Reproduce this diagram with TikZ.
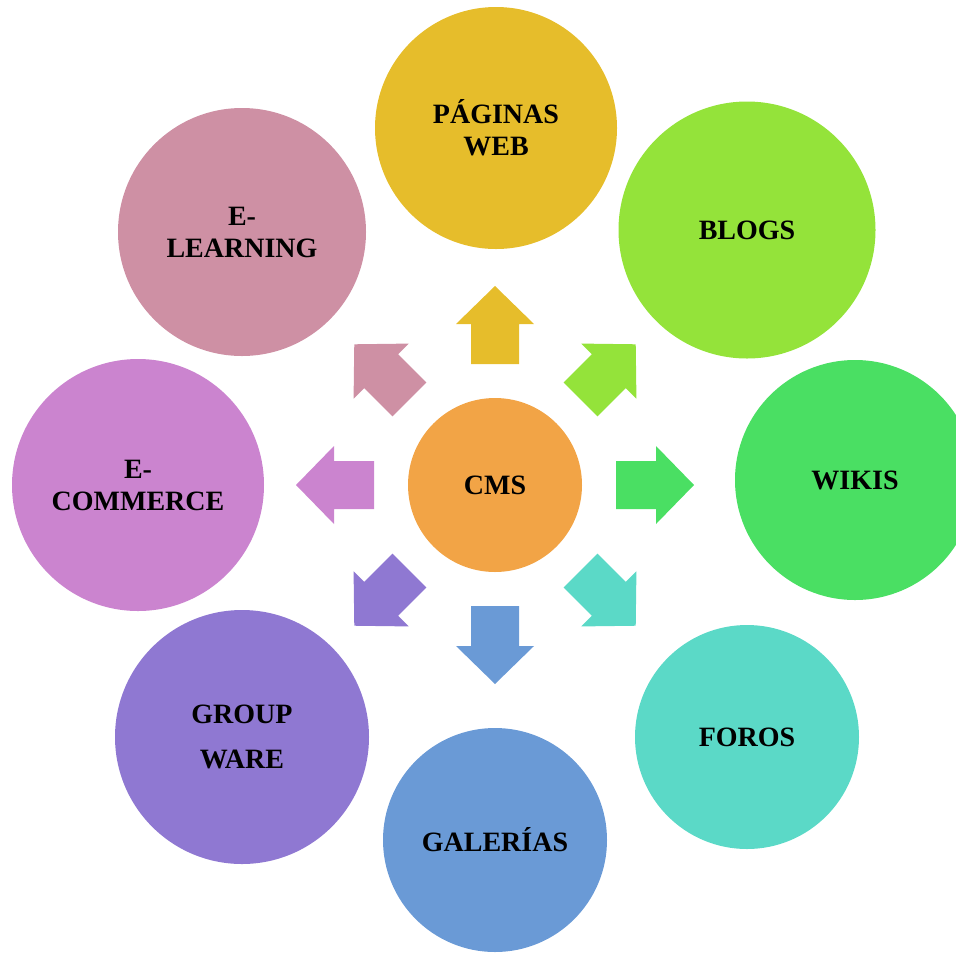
\documentclass[tikz,border=0pt]{standalone}
\usepackage{fontspec}
\setmainfont{Liberation Serif}
\definecolor{colcms}{HTML}{F2A446}
\definecolor{colpag}{HTML}{E6BD2B}
\definecolor{colblogs}{HTML}{94E33A}
\definecolor{colwikis}{HTML}{4ADF63}
\definecolor{colforos}{HTML}{5BD9C7}
\definecolor{colgal}{HTML}{6A9AD6}
\definecolor{colgroup}{HTML}{8F78D2}
\definecolor{colecom}{HTML}{CB84CF}
\definecolor{colelearn}{HTML}{CE90A4}

\begin{document}
\begin{tikzpicture}[x=1pt,y=1pt,
	bubble/.style={circle,inner sep=0pt,align=center,text=black,
		font=\fontsize{28}{32}\selectfont\bfseries}]
	\useasboundingbox (0,0) rectangle (956,-954);

	\node[bubble,fill=colcms,minimum size=174pt] (cms) at (495,-485) {CMS};
	\node[bubble,fill=colpag,minimum size=242pt] (pag) at (496,-128) {PÁGINAS\\WEB};
	\node[bubble,fill=colblogs,minimum size=257pt] (blogs) at (747,-230) {BLOGS};
	\node[bubble,fill=colwikis,minimum size=240pt] (wikis) at (855,-480) {WIKIS};
	\node[bubble,fill=colforos,minimum size=224pt] (foros) at (747,-737) {FOROS};
	\node[bubble,fill=colgal,minimum size=224pt] (gal) at (495,-840) {GALERÍAS};
	\node[bubble,fill=colgroup,minimum size=254pt] (group) at (242,-737) {GROUP\\[13pt]WARE};
	\node[bubble,fill=colecom,minimum size=252pt] (ecom) at (138,-485) {E-\\COMMERCE};
	\node[bubble,fill=colelearn,minimum size=248pt] (elearn) at (242,-232) {E-\\LEARNING};

	% block arrows from CMS outwards
	\foreach \name/\ang in {pag/90,blogs/45,wikis/0,foros/-45,gal/-90,group/-135,ecom/180,elearn/135}{
		\begin{scope}[shift={(cms.center)},rotate=\ang]
			\fill[fill=col\name] (121,-24) -- (161,-24) -- (161,-39) -- (199,0)
				-- (161,39) -- (161,24) -- (121,24) -- cycle;
		\end{scope}
	}
\end{tikzpicture}
\end{document}
